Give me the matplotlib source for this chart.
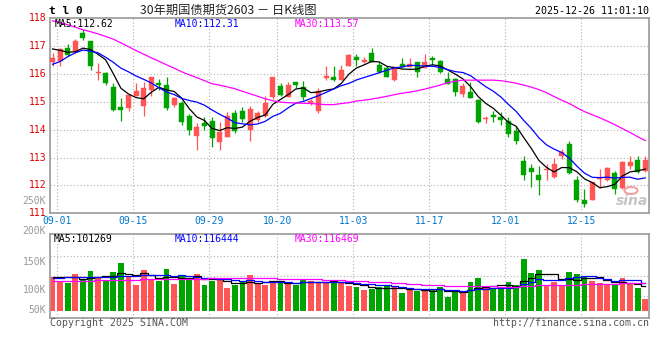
import numpy as np
import matplotlib
matplotlib.use("Agg")
import matplotlib.pyplot as plt
from matplotlib.patches import Ellipse

# ---------------- data ----------------
open_ = [116.43, 116.48, 116.95, 116.80, 117.46, 117.19, 116.03, 116.05, 115.52, 114.83,
         114.77, 115.22, 114.84, 115.43, 115.69, 115.62, 114.89, 114.95, 114.51, 113.79,
         114.23, 114.33, 113.55, 113.75, 114.59, 114.68, 114.00, 114.35, 114.51, 115.16,
         115.58, 115.19, 115.70, 115.54, 114.96, 114.68, 115.84, 115.90, 115.80, 116.30,
         116.62, 116.44, 116.77, 116.33, 116.21, 115.78, 116.36, 116.26, 116.42, 116.21,
         116.57, 116.45, 115.82, 115.82, 115.28, 115.34, 115.07, 114.37, 114.54, 114.44,
         114.33, 113.97, 112.89, 112.63, 112.39, 112.55, 112.29, 113.04, 113.49, 112.20,
         111.48, 111.49, 112.22, 112.18, 112.44, 111.91, 112.69, 112.92, 112.51]
close = [116.57, 116.90, 116.68, 117.19, 117.31, 116.30, 116.05, 115.68, 114.72, 114.70,
         115.26, 115.40, 115.48, 115.88, 115.60, 114.78, 115.13, 114.27, 114.00, 114.11,
         114.15, 113.69, 113.91, 114.51, 113.97, 114.39, 114.75, 114.59, 114.95, 115.88,
         115.26, 115.62, 115.59, 115.16, 115.02, 115.40, 115.94, 115.80, 116.15, 116.69,
         116.50, 116.50, 116.42, 116.06, 115.90, 116.26, 116.26, 116.36, 116.09, 116.44,
         116.50, 116.06, 115.64, 115.34, 115.58, 115.14, 114.27, 114.41, 114.44, 114.35,
         113.85, 113.58, 112.39, 112.47, 112.20, 112.59, 112.77, 113.19, 112.44, 111.46,
         111.32, 112.11, 112.26, 112.63, 111.88, 112.83, 112.83, 112.47, 112.93]
high = [116.75, 116.95, 117.08, 117.26, 117.61, 117.19, 116.38, 116.07, 115.68, 115.14,
        115.28, 115.66, 115.70, 115.91, 115.82, 115.88, 115.16, 115.04, 114.57, 114.23,
        114.47, 114.44, 114.27, 114.62, 114.72, 114.80, 114.86, 114.68, 115.22, 115.88,
        115.66, 115.72, 115.72, 115.76, 115.12, 115.50, 116.30, 116.30, 116.33, 116.72,
        116.72, 116.60, 116.92, 116.42, 116.30, 116.30, 116.57, 116.57, 116.42, 116.72,
        116.66, 116.50, 116.09, 115.86, 115.66, 115.70, 115.10, 114.51, 114.68, 114.62,
        114.45, 114.15, 113.07, 112.77, 112.71, 112.77, 112.99, 113.31, 113.58, 112.35,
        111.88, 112.13, 112.59, 112.65, 112.53, 112.86, 113.04, 113.07, 113.04]
low = [116.30, 116.27, 116.63, 116.77, 117.23, 116.15, 115.80, 115.62, 114.68, 114.30,
       114.66, 115.22, 114.48, 115.20, 115.43, 114.71, 114.82, 114.17, 113.82, 113.29,
       114.00, 113.37, 113.29, 113.75, 113.87, 114.27, 113.58, 114.27, 114.47, 115.12,
       115.22, 115.16, 115.50, 115.08, 114.88, 114.59, 115.78, 115.76, 115.78, 116.27,
       116.30, 116.40, 116.42, 116.02, 115.90, 115.74, 116.26, 116.24, 115.90, 116.21,
       116.33, 116.02, 115.64, 115.20, 115.16, 115.14, 114.23, 114.23, 114.27, 114.18,
       113.75, 113.49, 112.18, 111.94, 111.64, 112.21, 112.25, 112.95, 112.40, 111.40,
       111.22, 111.47, 111.91, 112.15, 111.70, 111.88, 112.60, 112.44, 112.47]
volume_k = [140.8, 125.2, 118.0, 154.7, 132.3, 167.3, 140.8, 129.4, 163.1, 201.0,
            146.2, 108.3, 171.5, 133.6, 125.2, 175.7, 112.5, 150.4, 136.5, 154.7,
            108.3, 125.2, 136.5, 95.6, 108.3, 119.7, 150.4, 115.5, 108.3, 125.2,
            119.7, 120.9, 108.3, 133.6, 125.2, 115.5, 122.2, 122.2, 122.2, 104.1,
            99.9, 87.2, 91.5, 101.1, 104.1, 98.6, 75.8, 87.2, 84.2, 87.2,
            91.5, 101.1, 59.0, 78.8, 73.3, 120.9, 137.8, 98.6, 91.5, 94.4,
            120.9, 108.3, 217.9, 158.8, 171.5, 108.3, 122.2, 108.3, 163.1, 154.7,
            146.2, 125.2, 116.8, 108.3, 112.5, 137.8, 116.8, 95.6, 49.3]

# moving-average values before the window is filled
ma5_head = [116.90, 116.85, 116.78, 116.80]
ma10_head = [116.35, 116.45, 116.62, 116.76, 116.86, 116.82, 116.76, 116.60, 116.42]
ma30_line = [117.91, 117.84, 117.77, 117.68, 117.59, 117.52, 117.44, 117.35, 117.25, 117.12,
             116.98, 116.84, 116.71, 116.58, 116.46, 116.33, 116.21, 116.08, 115.97, 115.87,
             115.76, 115.65, 115.60, 115.54, 115.47, 115.38, 115.29, 115.20, 115.11, 115.04,
             114.99, 114.97, 114.96, 114.95, 114.94, 114.92, 114.90, 114.90, 114.94, 114.97,
             115.03, 115.06, 115.10, 115.15, 115.20, 115.26, 115.31, 115.35, 115.40, 115.46,
             115.53, 115.60, 115.69, 115.74, 115.78, 115.78, 115.78, 115.78, 115.78, 115.76,
             115.72, 115.67, 115.60, 115.53, 115.44, 115.33, 115.19, 115.06, 114.94, 114.79,
             114.65, 114.54, 114.43, 114.31, 114.18, 114.04, 113.90, 113.75, 113.61]
vma5_head = [143, 143, 141, 142]
vma10_head = [137, 137, 142, 142, 142, 142, 142, 142, 143]
vma30_head = [125, 125, 126, 126, 127, 127, 128, 128, 129, 129,
              130, 131, 132, 132, 133, 133, 134, 134, 135, 135,
              135, 136, 136, 136, 136, 136, 136, 136, 136]

tick_index = [0, 10, 20, 29, 39, 49, 59, 69]
tick_labels = ["09-01", "09-15", "09-29", "10-20", "11-03", "11-17", "12-01", "12-15"]
price_ticks = [118, 117, 116, 115, 114, 113, 112, 111]
vol_tick_labels = ["250K", "200K", "150K", "100K", "50K"]

title_text = "30年期国债期货2603 － 日K线图"
symbol_text = "t l 0"
time_text = "2025-12-26 11:01:10"
price_legend = ["MA5:112.62", "MA10:112.31", "MA30:113.57"]
vol_legend = ["MA5:101269", "MA10:116444", "MA30:116469"]

# ---------------- helpers ----------------
def rolling(vals, n, head):
    v = np.asarray(vals, float)
    out = list(head)
    for i in range(len(head), len(v)):
        out.append(v[i - n + 1:i + 1].mean())
    return np.array(out)

W, H = 660, 360
def fx(px): return px / W
def fy(py): return 1 - py / H

RED = "#FF5555"
GREEN = "#00A400"
GRID = "#B0B0B0"
FRAME = "#A0A0A0"
MONO = "DejaVu Sans Mono"

n = len(close)
x = np.arange(n)
o = np.array(open_); c = np.array(close); hi = np.array(high); lo = np.array(low)
up = c >= o
cols = [RED if u else GREEN for u in up]

ma5 = rolling(close, 5, ma5_head)
ma10 = rolling(close, 10, ma10_head)
ma30 = np.array(ma30_line)
vma5 = rolling(volume_k, 5, vma5_head)
vma10 = rolling(volume_k, 10, vma10_head)
vma30 = rolling(volume_k, 30, vma30_head)

fig = plt.figure(figsize=(6.6, 3.6), dpi=100)
fig.patch.set_facecolor("white")

L, R = 50, 649
ax = fig.add_axes([fx(L), fy(213.3), fx(R) - fx(L), fy(18.3) - fy(213.3)])
av = fig.add_axes([fx(L), fy(318.3), fx(R) - fx(L), fy(234.3) - fy(318.3)])

slot = 7.6
xl = (L - 52.5) / slot
xr = (R - 52.5) / slot
for a in (ax, av):
    a.set_xlim(xl, xr)
    a.set_xticks([]); a.set_yticks([])
    for s in a.spines.values():
        s.set_color(FRAME); s.set_linewidth(1.3)
    for t in tick_index:
        a.axvline(t + 0.6, color=GRID, lw=0.8, ls=(0, (1, 2)), zorder=0)

ax.set_ylim(111, 118)
for p in price_ticks[1:-1]:
    ax.axhline(p, color=GRID, lw=0.8, ls=(0, (1, 2)), zorder=0)

# candles
body_w = 0.68
bottoms = np.minimum(o, c)
heights = np.maximum(np.abs(c - o), 0.035)
ax.vlines(x, lo, hi, colors=cols, lw=0.9, zorder=2)
ax.bar(x, heights, bottom=bottoms, width=body_w, color=cols, edgecolor=cols, lw=0.3, zorder=3)

ax.plot(x, ma5, color="black", lw=0.9, zorder=4)
ax.plot(x, ma10, color="#0000FF", lw=0.9, zorder=4)
ax.plot(x, ma30, color="#FF00FF", lw=0.9, zorder=4)

# volume
s_px = 0.237  # px per K
vb = -(318.3 - 310.7) / s_px
vt = (310.7 - 234.3) / s_px
av.set_ylim(vb, vt)
for gpx in (255.7, 275.7, 295.7):
    frac = (318.3 - gpx) / 84.0
    av.axhline(vb + frac * (vt - vb), color=GRID, lw=0.8, ls=(0, (1, 2)), zorder=0)
av.bar(x, volume_k, width=0.75, color=cols, lw=0, zorder=2)
av.plot(x, vma5, color="black", lw=0.9, drawstyle="steps-mid", zorder=4)
av.plot(x, vma10, color="#0000FF", lw=0.9, drawstyle="steps-mid", zorder=4)
av.plot(x, vma30, color="#FF00FF", lw=0.9, drawstyle="steps-mid", zorder=4)

# x tick labels
for t, lab in zip(tick_index, tick_labels):
    px = 52.5 + slot * (t + 0.6)
    fig.text(fx(px), fy(221.5), lab, ha="center", va="center", color="#0077CC",
             fontsize=7, family=MONO)

# price labels
for p in price_ticks:
    py = 18.3 + (118 - p) * (195.0 / 7)
    fig.text(fx(46), fy(py), str(p), ha="right", va="center", color="#E00000",
             fontsize=7, family=MONO)

# volume labels
for lab, py in zip(vol_tick_labels, (201, 230.7, 261.7, 290, 310)):
    fig.text(fx(46), fy(py), lab, ha="right", va="center", color="#999999",
             fontsize=7, family=MONO)

# legends
leg_cols = ["black", "#0000FF", "#FF00FF"]
for txt, colr, px in zip(price_legend, leg_cols, (55, 175, 295)):
    fig.text(fx(px), fy(24), txt, ha="left", va="center", color=colr, fontsize=7, family=MONO)
for txt, colr, px in zip(vol_legend, leg_cols, (54, 175, 295)):
    fig.text(fx(px), fy(238.5), txt, ha="left", va="center", color=colr, fontsize=7, family=MONO)

# header
fig.text(fx(49), fy(11), symbol_text, ha="left", va="center", color="black",
         fontsize=8, family=MONO, fontweight="bold")
fig.text(fx(140), fy(10.5), title_text, ha="left", va="center", color="#222222",
         fontsize=8.8, family=["Noto Sans CJK SC", "DejaVu Sans"])
fig.text(fx(649), fy(11), time_text, ha="right", va="center", color="black",
         fontsize=7.2, family=MONO)

# footer
fig.text(fx(50), fy(323), "Copyright 2025 SINA.COM", ha="left", va="center",
         color="#555555", fontsize=7.1, family=MONO)
fig.text(fx(649), fy(323), "http://finance.sina.com.cn", ha="right", va="center",
         color="#555555", fontsize=7.1, family=MONO)

# sina watermark
fig.text(fx(648), fy(201), "sina", ha="right", va="center", color="#C4C4C4",
         fontsize=10, fontweight="bold", style="italic", family="DejaVu Sans")
fig.patches.append(Ellipse((fx(631), fy(190.5)), fx(13), 7 / H, transform=fig.transFigure,
                           facecolor="none", edgecolor="#F0A0A0", lw=1.5))

fig.savefig("out.png", dpi=100)
